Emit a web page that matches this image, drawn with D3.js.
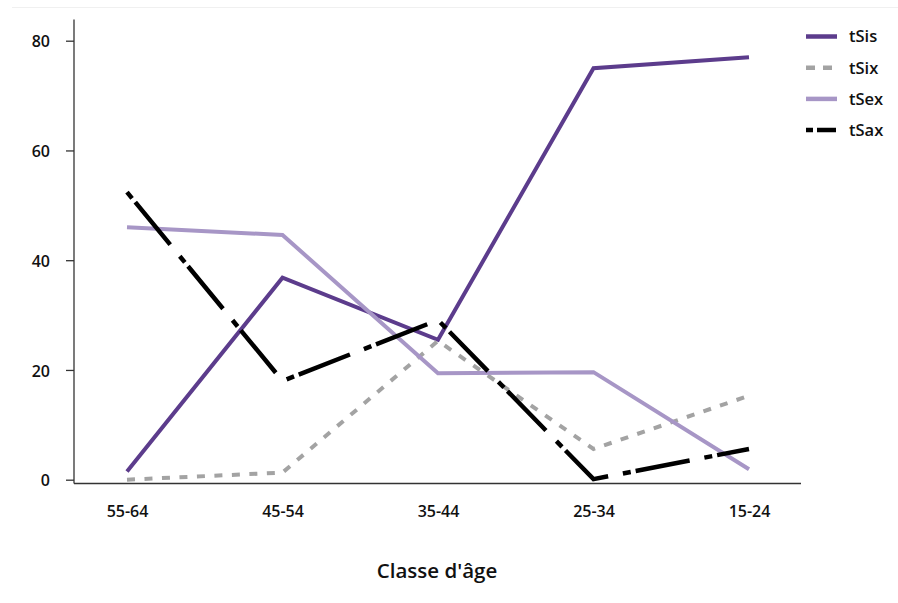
<!DOCTYPE html>
<html>
<head>
<meta charset="utf-8">
<script src="https://cdn.jsdelivr.net/npm/d3@7"></script>
<style>
  html, body { margin: 0; padding: 0; background: #fff; }
  svg { display: block; }
  text { font-family: "Open Sans", sans-serif; font-weight: 600; fill: #111; }
</style>
</head>
<body>
<svg id="chart" width="898" height="603"></svg>
<script>
const categories = ["55-64", "45-54", "35-44", "25-34", "15-24"];
const tSis = [1.5, 36.8, 25.5, 75.0, 77.0];
const tSix = [0.0, 1.3, 25.3, 5.6, 15.3];
const tSex = [46.0, 44.6, 19.4, 19.6, 1.9];
const tSax = [52.4, 18.0, 29.1, 0.1, 5.6];
const yTicks = [0, 20, 40, 60, 80];
const seriesNames = ["tSis", "tSix", "tSex", "tSax"];

const seriesValues = { tSis, tSix, tSex, tSax };
const styles = {
  tSis: { color: "#5c3c8c", width: 4, dash: null, legendDash: null },
  tSix: { color: "#a3a3a3", width: 4, dash: "8,9.5", legendDash: "9,8" },
  tSex: { color: "#a796c6", width: 4, dash: null, legendDash: null },
  tSax: { color: "#000000", width: 4.5, dash: "8,5,55,15", legendDash: "7,4,19" }
};

const svg = d3.select("#chart");

// faint top rule
svg.append("line").attr("x1", 12).attr("x2", 898).attr("y1", 7.5).attr("y2", 7.5)
  .attr("stroke", "#f0f0f0").attr("stroke-width", 1);

const x = d3.scalePoint().domain(categories).range([127, 749]);
const y = d3.scaleLinear().domain([0, 80]).range([479.7, 40.7]);

// y axis
const yAxis = d3.axisLeft(y).tickValues(yTicks).tickSize(8).tickPadding(16);
const gy = svg.append("g").attr("transform", "translate(74,0)").call(yAxis);
gy.select(".domain").attr("d", "M0,19.5V483.5").attr("stroke", "#333").attr("stroke-width", 1.3);
gy.selectAll(".tick line").attr("stroke", "#333").attr("stroke-width", 1.3);
gy.selectAll(".tick text").attr("font-size", 16).attr("font-family", "Open Sans").attr("font-weight", 600).attr("fill", "#111").attr("dy", "0.38em");

// x axis
const xAxis = d3.axisBottom(x).tickSize(0).tickPadding(22);
const gx = svg.append("g").attr("transform", "translate(0,483.5)").call(xAxis);
gx.select(".domain").attr("d", "M74,0H801").attr("stroke", "#333").attr("stroke-width", 1.3);
gx.selectAll(".tick text").attr("font-size", 16).attr("font-family", "Open Sans").attr("font-weight", 600).attr("fill", "#111");

// axis title
svg.append("text").attr("x", 437).attr("y", 578).attr("text-anchor", "middle")
  .attr("font-size", 20.5).text("Classe d'âge");

// lines
const line = d3.line().x((d, i) => x(categories[i])).y(d => y(d));
const drawOrder = ["tSis", "tSix", "tSex", "tSax"];
drawOrder.forEach(name => {
  const s = styles[name];
  svg.append("path")
    .datum(seriesValues[name])
    .attr("d", line)
    .attr("fill", "none")
    .attr("stroke", s.color)
    .attr("stroke-width", s.width)
    .attr("stroke-linejoin", "miter")
    .attr("stroke-linecap", "butt")
    .attr("stroke-dasharray", s.dash);
});

// legend
const legend = svg.append("g");
seriesNames.forEach((name, i) => {
  const s = styles[name];
  const ly = 36.5 + i * 31.2;
  legend.append("line").attr("x1", 806).attr("x2", 837).attr("y1", ly).attr("y2", ly)
    .attr("stroke", s.color).attr("stroke-width", 4.5)
    .attr("stroke-dasharray", s.legendDash);
  legend.append("text").attr("x", 849).attr("y", ly).attr("dy", "0.36em")
    .attr("font-size", 16.5).text(name);
});
</script>
</body>
</html>
